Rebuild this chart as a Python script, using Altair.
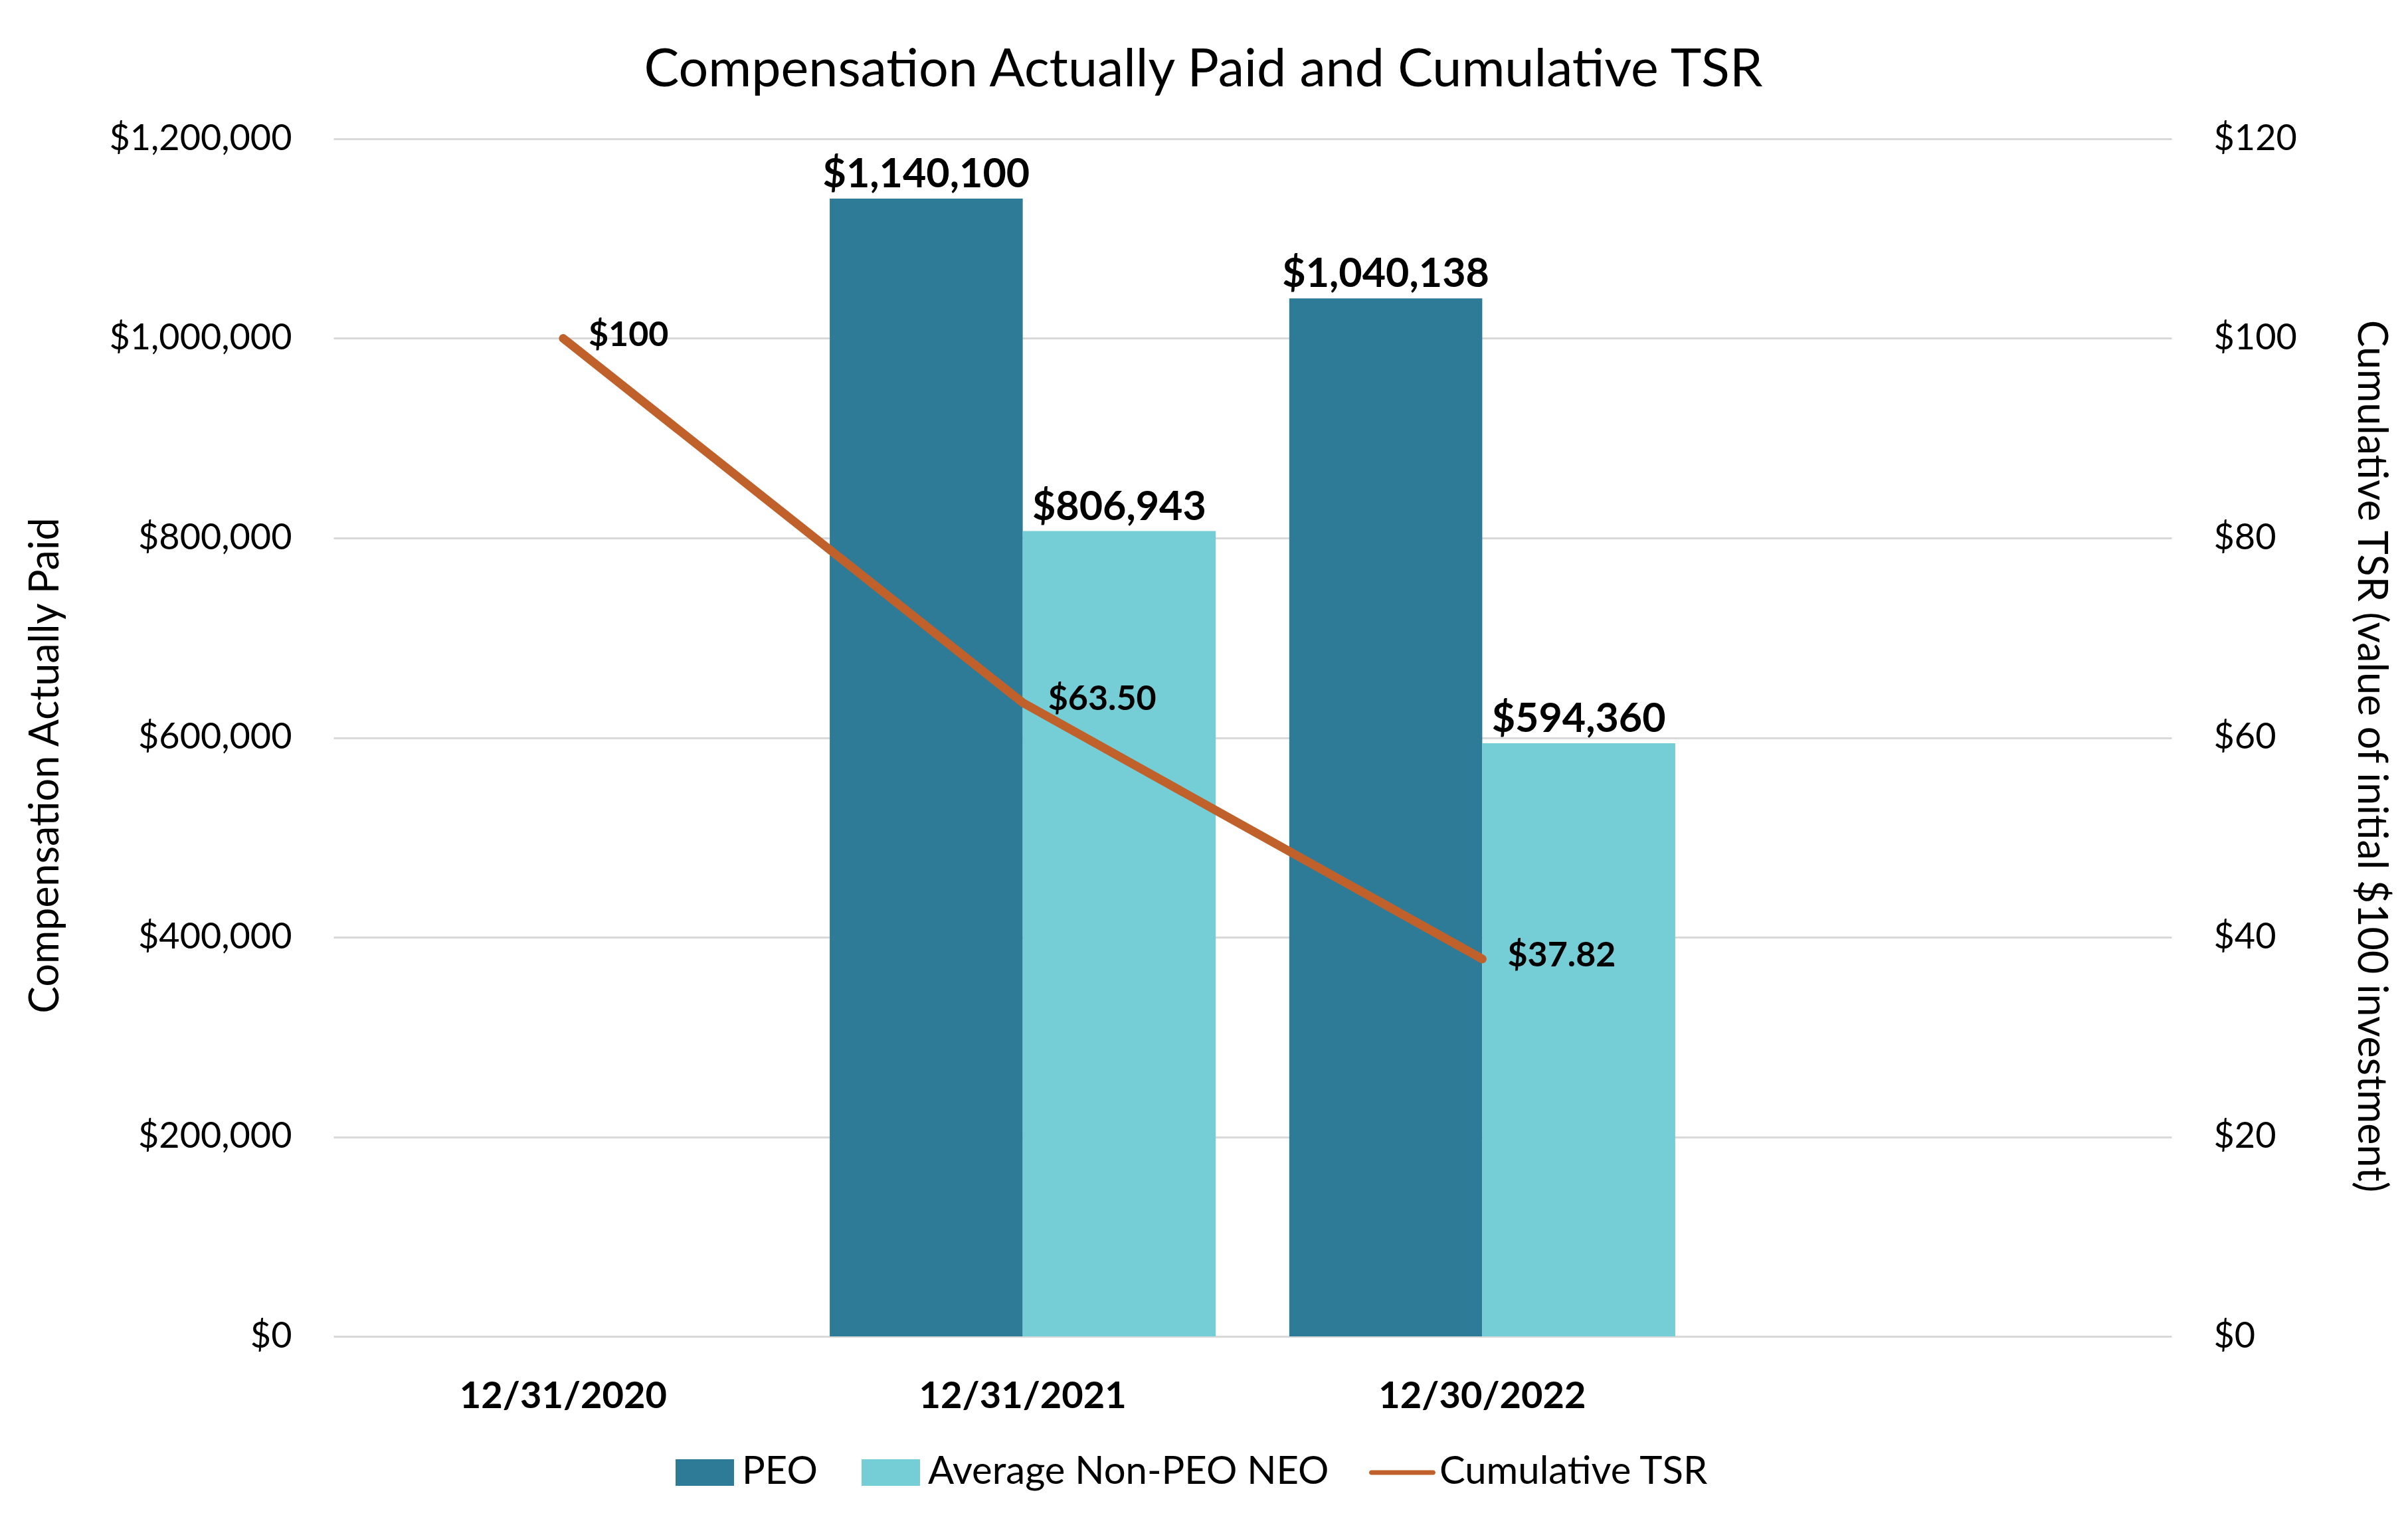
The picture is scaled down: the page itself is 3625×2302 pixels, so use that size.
import altair as alt
import pandas as pd

FONT = "Lato"

# ---- data ----
years = ["12/31/2020", "12/31/2021", "12/30/2022"]
slots = years + [" "]
series_names = ["PEO", "Average Non-PEO NEO", "Cumulative TSR"]
bar_series_names = ["PEO", "Average Non-PEO NEO"]
bar_years = ["12/31/2021", "12/31/2021", "12/30/2022", "12/30/2022"]
bar_series = ["PEO", "Average Non-PEO NEO", "PEO", "Average Non-PEO NEO"]
bar_values = [1140100, 806943, 1040138, 594360]
tsr_values = [100, 63.50, 37.82]
left_ticks = [0, 200000, 400000, 600000, 800000, 1000000, 1200000]
right_ticks = [0, 20, 40, 60, 80, 100, 120]
colors = ["#2E7B98", "#75CDD5", "#C0612B"]

bars_df = pd.DataFrame({"year": bar_years, "series": bar_series, "value": bar_values})
tsr_df = pd.DataFrame({"year": years, "tsr": tsr_values})

x_enc = alt.X(
    "year:N",
    sort=slots,
    scale=alt.Scale(domain=slots, paddingInner=0.16, paddingOuter=0.08),
    axis=alt.Axis(
        title=None, labelAngle=0, labelFont=FONT, labelFontSize=56,
        labelFontWeight="bold", labelColor="black", labelPadding=63,
        labelLimit=0, ticks=False, tickSize=0, domain=False, grid=False,
    ),
)

y_left = alt.Y(
    "value:Q",
    scale=alt.Scale(domain=[0, 1200000], nice=False),
    axis=alt.Axis(
        values=left_ticks, format="$,.0f",
        title="Compensation Actually Paid",
        titleX=-433, titleY=943, titleAngle=270, titleBaseline="middle",
        titleFont=FONT, titleFontSize=61, titleFontWeight="normal", titleColor="black",
        titleLimit=0,
        labelFont=FONT, labelFontSize=54, labelColor="black", labelPadding=63,
        labelLimit=0, ticks=False, tickSize=0, domain=False,
        grid=True, gridColor="#D9D9D9", gridWidth=3,
    ),
)

y_right = alt.Y(
    "tsr:Q",
    scale=alt.Scale(domain=[0, 120], nice=False),
    axis=alt.Axis(
        orient="right", values=right_ticks, format="$,.0f",
        title="Cumulative TSR (value of initial $100 investment)",
        titleX=298, titleY=929, titleAngle=90, titleBaseline="middle",
        titleFont=FONT, titleFontSize=61, titleFontWeight="normal", titleColor="black",
        titleLimit=0,
        labelFont=FONT, labelFontSize=54, labelColor="black", labelPadding=63,
        labelLimit=0, ticks=False, tickSize=0, domain=False, grid=False,
    ),
)

x_off = alt.XOffset(
    "series:N",
    sort=bar_series_names,
    scale=alt.Scale(domain=bar_series_names, paddingInner=0, paddingOuter=0),
)

RECT = "M-0.88,-0.4H0.88V0.4H-0.88Z"
LINE = "M-0.93,-0.07H0.93A0.07,0.07,0,0,1,0.93,0.07H-0.93A0.07,0.07,0,0,1,-0.93,-0.07Z"

bars = alt.Chart(bars_df).mark_bar().encode(
    x=x_enc,
    xOffset=x_off,
    y=y_left,
    color=alt.Color(
        "series:N",
        scale=alt.Scale(domain=series_names, range=colors),
        legend=alt.Legend(
            title=None, orient="none", legendX=509, legendY=1958,
            direction="horizontal", columns=3, padding=0,
            symbolType=alt.ExprRef(expr=f"datum.value === 'Cumulative TSR' ? '{LINE}' : '{RECT}'"),
            symbolSize=10000, symbolStrokeWidth=0, symbolOpacity=1,
            labelFont=FONT, labelFontSize=58, labelColor="black", labelLimit=0,
            labelOffset=6, columnPadding=60,
        ),
    ),
)

bar_text = alt.Chart(bars_df).mark_text(
    font=FONT, fontSize=61, fontWeight="bold", color="black",
    align="center", baseline="alphabetic", dy=-17,
).encode(
    x=x_enc,
    xOffset=x_off,
    y=y_left,
    text=alt.Text("value:Q", format="$,.0f"),
)

line = alt.Chart(tsr_df).mark_line(
    color=colors[2], strokeWidth=13, strokeCap="round", strokeJoin="round",
).encode(x=x_enc, y=y_right)

tsr_text = alt.Chart(tsr_df).transform_calculate(
    lbl="datum.tsr % 1 == 0 ? format(datum.tsr, '$.0f') : format(datum.tsr, '$.2f')"
).mark_text(
    font=FONT, fontSize=52, fontWeight="bold", color="black",
    align="left", baseline="middle", dx=38, dy=-5,
).encode(x=x_enc, y=y_right, text="lbl:N")

left = alt.layer(bars, bar_text)
right = alt.layer(line, tsr_text)

chart = alt.layer(left, right).resolve_scale(y="independent").properties(
    width=2767,
    height=1803,
    title=alt.TitleParams(
        "Compensation Actually Paid and Cumulative TSR",
        font=FONT, fontSize=79, fontWeight="normal", color="black",
        anchor="middle", offset=75, baseline="alphabetic", dx=-74, dy=102,
    ),
    autosize=alt.AutoSizeParams(type="none"),
    padding={"left": 494, "top": 201, "right": 348, "bottom": 270},
    background="white",
).configure_view(stroke=None)

chart.save("out.html", embed_options={"renderer": "svg", "actions": False})
